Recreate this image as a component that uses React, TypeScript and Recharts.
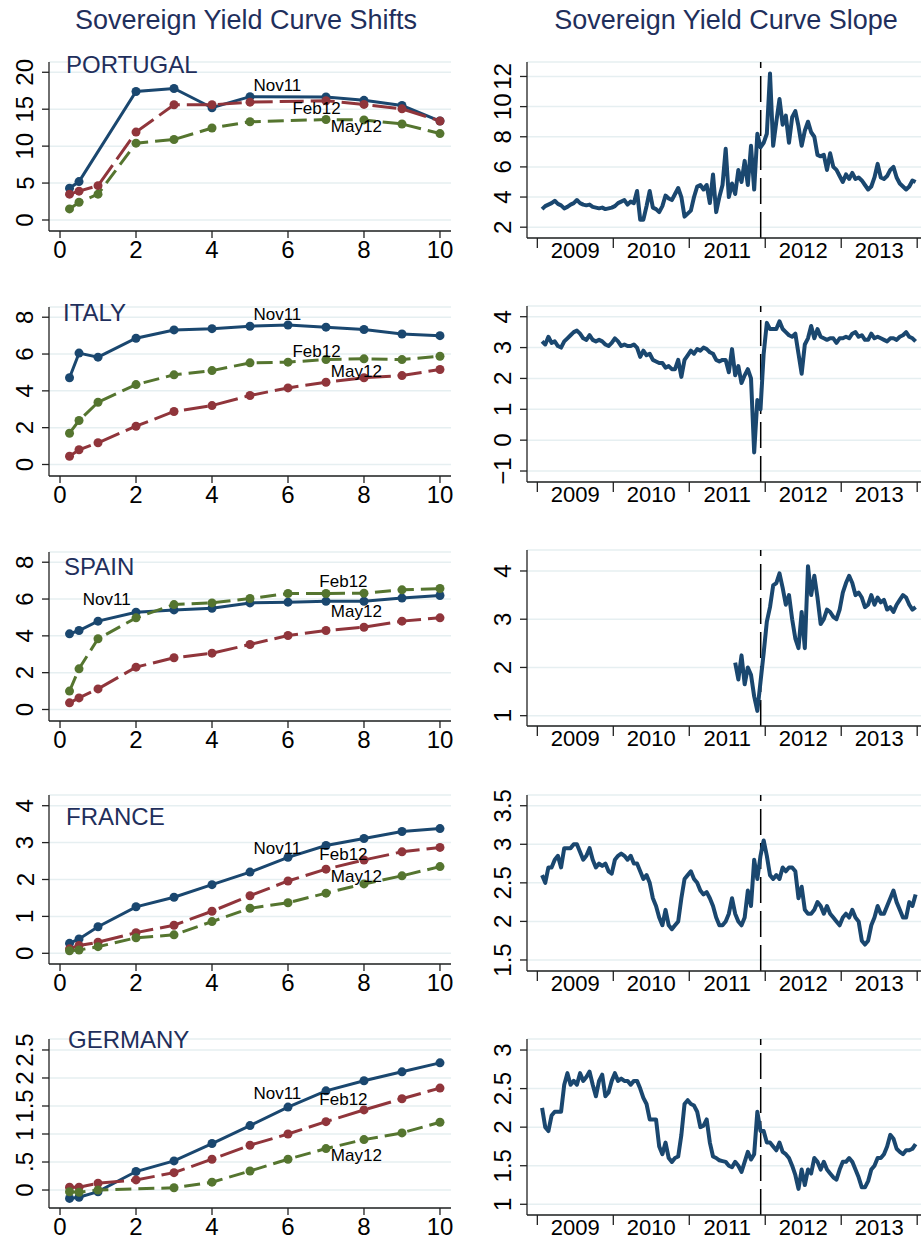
import { CartesianGrid, Line, LineChart, ReferenceDot, ReferenceLine, XAxis, YAxis } from "recharts";

const FONT = '"Liberation Sans", Arial, Helvetica, sans-serif';
const NAVY = "#1a476f";
const MAROON = "#90353b";
const GREEN = "#55752f";
const GRID = "#e6eff1";
const AXIS = "#222";
const TITLE = "#1f2f5c";

// ---- yield curve shifts (left column) ----
const MATURITIES = [0.25, 0.5, 1, 2, 3, 4, 5, 6, 7, 8, 9, 10];
const MAT_TICKS = [0, 2, 4, 6, 8, 10];

const portugalNov11 = [4.3, 5.2, null, 17.4, 17.8, 15.2, 16.7, null, 16.65, 16.2, 15.5, 13.4];
const portugalFeb12 = [3.5, 3.9, 4.65, 11.9, 15.6, 15.6, 15.95, null, 16.15, 15.65, 15.05, 13.4];
const portugalMay12 = [1.5, 2.4, 3.5, 10.4, 10.9, 12.45, 13.3, null, 13.6, 13.55, 13.0, 11.7];

const italyNov11 = [4.71, 6.05, 5.83, 6.86, 7.31, 7.38, 7.51, 7.58, 7.46, 7.33, 7.09, 7.0];
const italyFeb12 = [0.45, 0.8, 1.18, 2.08, 2.88, 3.2, 3.75, 4.16, 4.47, 4.71, 4.83, 5.16];
const italyMay12 = [1.7, 2.39, 3.38, 4.34, 4.87, 5.1, 5.52, 5.56, 5.7, 5.74, 5.7, 5.88];

const spainNov11 = [4.11, 4.29, 4.8, 5.28, 5.41, 5.5, 5.79, 5.83, 5.88, 5.88, 6.05, 6.19];
const spainFeb12 = [0.36, 0.63, 1.12, 2.3, 2.81, 3.06, 3.53, 4.02, 4.29, 4.47, 4.8, 4.98];
const spainMay12 = [1.0, 2.21, 3.84, 4.98, 5.7, 5.79, 6.03, 6.3, 6.3, 6.32, 6.5, 6.57];

const franceNov11 = [0.27, 0.39, 0.72, 1.26, 1.52, 1.86, 2.2, 2.6, 2.92, 3.11, 3.3, 3.38];
const franceFeb12 = [0.12, 0.21, 0.3, 0.56, 0.76, 1.14, 1.56, 1.96, 2.28, 2.53, 2.75, 2.87];
const franceMay12 = [0.07, 0.09, 0.18, 0.42, 0.5, 0.86, 1.22, 1.37, 1.63, 1.88, 2.1, 2.35];

const germanyNov11 = [-0.15, -0.13, -0.03, 0.33, 0.52, 0.83, 1.15, 1.48, 1.77, 1.95, 2.11, 2.27];
const germanyFeb12 = [0.05, 0.05, 0.12, 0.18, 0.31, 0.55, 0.8, 1.0, 1.22, 1.43, 1.63, 1.82];
const germanyMay12 = [-0.03, -0.04, 0.0, null, 0.04, 0.14, 0.34, 0.55, 0.74, 0.9, 1.02, 1.21];

const portugalNotes = [
  { text: "Nov11", m: 5.72, y: 18.3 },
  { text: "Feb12", m: 6.75, y: 15.1 },
  { text: "May12", m: 7.8, y: 12.7 },
];
const italyNotes = [
  { text: "Nov11", m: 5.72, y: 8.15 },
  { text: "Feb12", m: 6.75, y: 6.14 },
  { text: "May12", m: 7.8, y: 5.07 },
];
const spainNotes = [
  { text: "Nov11", m: 1.23, y: 6.01 },
  { text: "Feb12", m: 7.46, y: 7.0 },
  { text: "May12", m: 7.8, y: 5.34 },
];
const franceNotes = [
  { text: "Nov11", m: 5.72, y: 2.85 },
  { text: "Feb12", m: 7.46, y: 2.69 },
  { text: "May12", m: 7.8, y: 2.09 },
];
const germanyNotes = [
  { text: "Nov11", m: 5.72, y: 1.74 },
  { text: "Feb12", m: 7.46, y: 1.62 },
  { text: "May12", m: 7.8, y: 0.625 },
];

// ---- yield curve slope (right column), half-month readings 2009-2013 ----
const YEARS = [2009, 2010, 2011, 2012, 2013];
const YEAR_TICKS = [2009, 2009.5, 2010, 2010.5, 2011, 2011.5, 2012, 2012.5, 2013, 2013.5, 2014];
const EVENT_DATE = 2011.94;

const portugalSlope = [
  null, 3.2, 3.4, 3.5, 3.6, 3.75, 3.55, 3.45, 3.25, 3.35, 3.5, 3.6, 3.8, 3.6, 3.5, 3.45, 3.5, 3.35, 3.3, 3.25, 3.3, 3.2, 3.25, 3.3,
  3.4, 3.6, 3.7, 3.8, 3.5, 3.7, 3.6, 4.4, 2.5, 2.5, 3.4, 4.4, 3.3, 3.2, 3.0, 3.4, 4.1, 3.9, 3.8, 4.2, 4.6, 4.0, 2.7, 2.9,
  3.1, 4.0, 4.7, 4.8, 4.5, 4.8, 3.6, 5.5, 3.0, 4.0, 4.8, 7.2, 4.0, 4.9, 4.2, 5.8, 5.0, 6.4, 4.8, 7.4, 4.5, 8.2, 7.3, 7.6,
  8.2, 12.2, 7.4, 9.0, 10.5, 8.8, 9.4, 7.6, 9.3, 9.7, 8.7, 7.4, 8.4, 9.0, 8.3, 8.0, 6.8, 6.7, 6.8, 5.8, 6.9, 6.0, 5.8, 5.4,
  5.0, 5.5, 5.2, 5.6, 5.2, 5.3, 5.1, 4.8, 4.5, 4.7, 5.3, 6.2, 5.3, 5.2, 5.4, 5.8, 6.0, 5.3, 4.9, 4.7, 4.5, 4.7, 5.1, 5.0,
];
const italySlope = [
  null, 3.2, 3.1, 3.35, 3.15, 3.2, 3.05, 3.0, 3.2, 3.3, 3.4, 3.5, 3.55, 3.45, 3.3, 3.25, 3.4, 3.25, 3.2, 3.25, 3.2, 3.1, 3.05, 3.15,
  3.3, 3.2, 3.05, 3.1, 3.05, 3.05, 3.1, 3.0, 2.7, 2.9, 2.75, 2.8, 2.6, 2.55, 2.5, 2.5, 2.35, 2.4, 2.3, 2.3, 2.6, 2.05, 2.6, 2.75,
  2.9, 2.8, 2.95, 2.9, 3.0, 2.95, 2.85, 2.8, 2.6, 2.55, 2.6, 2.6, 2.2, 2.95, 2.1, 2.4, 1.85, 2.1, 2.3, 2.0, -0.4, 1.3, 1.0, 2.8,
  3.8, 3.6, 3.6, 3.6, 3.85, 3.6, 3.5, 3.4, 3.35, 3.45, 2.8, 2.15, 3.1, 3.3, 3.7, 3.3, 3.6, 3.35, 3.3, 3.25, 3.3, 3.3, 3.15, 3.3,
  3.3, 3.35, 3.3, 3.45, 3.5, 3.35, 3.4, 3.25, 3.25, 3.45, 3.3, 3.35, 3.3, 3.25, 3.2, 3.3, 3.3, 3.25, 3.35, 3.4, 3.5, 3.35, 3.3, 3.2,
];
const spainSlope = [
  null, null, null, null, null, null, null, null, null, null, null, null, null, null, null, null, null, null, null, null, null, null, null, null,
  null, null, null, null, null, null, null, null, null, null, null, null, null, null, null, null, null, null, null, null, null, null, null, null,
  null, null, null, null, null, null, null, null, null, null, null, null, null, null, 2.1, 1.75, 2.25, 1.65, 2.0, 1.85, 1.4, 1.1, 1.7, 2.3,
  2.95, 3.25, 3.7, 3.75, 3.95, 3.65, 3.3, 3.5, 3.0, 2.6, 2.4, 3.15, 2.4, 4.1, 3.5, 3.9, 3.45, 2.9, 3.0, 3.2, 3.15, 3.05, 3.0, 3.2,
  3.55, 3.75, 3.9, 3.75, 3.5, 3.55, 3.45, 3.25, 3.3, 3.5, 3.3, 3.45, 3.35, 3.4, 3.2, 3.25, 3.15, 3.3, 3.4, 3.5, 3.45, 3.3, 3.2, 3.25,
];
const franceSlope = [
  null, 2.6, 2.5, 2.7, 2.7, 2.8, 2.85, 2.7, 2.95, 2.95, 2.95, 3.0, 3.0, 2.9, 2.8, 2.85, 2.95, 2.8, 2.7, 2.75, 2.72, 2.75, 2.65, 2.62,
  2.8, 2.85, 2.88, 2.85, 2.8, 2.85, 2.75, 2.75, 2.65, 2.55, 2.6, 2.5, 2.3, 2.2, 2.05, 1.95, 2.15, 1.95, 1.9, 1.95, 2.0, 2.3, 2.55, 2.6,
  2.65, 2.55, 2.5, 2.4, 2.35, 2.38, 2.3, 2.2, 2.05, 1.95, 1.95, 2.0, 2.1, 2.3, 2.1, 2.0, 1.95, 2.05, 2.4, 2.2, 2.8, 2.55, 2.85, 3.05,
  2.85, 2.6, 2.55, 2.6, 2.55, 2.7, 2.65, 2.7, 2.7, 2.65, 2.3, 2.45, 2.15, 2.1, 2.1, 2.15, 2.25, 2.2, 2.1, 2.2, 2.1, 2.05, 2.0, 1.95,
  2.05, 2.1, 2.05, 2.15, 2.05, 2.0, 1.75, 1.7, 1.75, 1.95, 2.05, 2.2, 2.1, 2.1, 2.2, 2.3, 2.4, 2.25, 2.15, 2.05, 2.05, 2.25, 2.2, 2.35,
];
const germanySlope = [
  null, 2.25, 2.0, 1.95, 2.15, 2.2, 2.2, 2.2, 2.55, 2.7, 2.55, 2.6, 2.55, 2.7, 2.6, 2.65, 2.72, 2.55, 2.4, 2.6, 2.68, 2.4, 2.45, 2.6,
  2.7, 2.6, 2.63, 2.6, 2.6, 2.55, 2.6, 2.6, 2.5, 2.38, 2.3, 2.1, 2.1, 2.1, 1.75, 1.65, 1.8, 1.6, 1.55, 1.6, 1.62, 1.9, 2.3, 2.35,
  2.3, 2.28, 2.2, 2.0, 2.02, 2.1, 1.8, 1.62, 1.6, 1.57, 1.56, 1.55, 1.5, 1.48, 1.55, 1.5, 1.42, 1.55, 1.68, 1.58, 1.65, 2.2, 1.95, 1.95,
  1.8, 1.8, 1.75, 1.7, 1.8, 1.68, 1.65, 1.6, 1.5, 1.38, 1.2, 1.45, 1.25, 1.45, 1.4, 1.6, 1.55, 1.45, 1.55, 1.45, 1.4, 1.35, 1.32, 1.45,
  1.55, 1.55, 1.6, 1.55, 1.45, 1.35, 1.22, 1.22, 1.3, 1.45, 1.5, 1.6, 1.6, 1.65, 1.75, 1.9, 1.85, 1.72, 1.68, 1.65, 1.7, 1.7, 1.72, 1.78,
];

function curveRows(nov: (number | null)[], feb: (number | null)[], may: (number | null)[]) {
  return MATURITIES.map((m, i) => ({ m, nov11: nov[i], feb12: feb[i], may12: may[i] }));
}

// each reading sits in the middle of its half-month slot
const slopeRows = YEARS.flatMap((yr, yi) =>
  Array.from({ length: 24 }, (_, k) => {
    const i = yi * 24 + k;
    return {
      t: yr + (k + 0.5) / 24,
      portugal: portugalSlope[i],
      italy: italySlope[i],
      spain: spainSlope[i],
      france: franceSlope[i],
      germany: germanySlope[i],
    };
  })
);

const stataFmt = (v: number) => (v > 0 && v < 1 ? String(v).replace(/^0/, "") : v < 0 ? "\u2212" + Math.abs(v) : String(v));

function RotYTick(props: any) {
  const { x, y, payload } = props;
  const cx = x - 17;
  return (
    <text
      x={cx}
      y={y}
      transform={`rotate(-90 ${cx} ${y})`}
      textAnchor="middle"
      dominantBaseline="central"
      fontSize={24}
      fontFamily={FONT}
      fill="#000"
    >
      {stataFmt(payload.value)}
    </text>
  );
}

function NumXTick(props: any) {
  const { x, y, payload } = props;
  return (
    <text x={x} y={y + 11} textAnchor="middle" dominantBaseline="central" fontSize={24} fontFamily={FONT} fill="#000">
      {payload.value}
    </text>
  );
}

function YearTick(props: any) {
  const { x, y, payload } = props;
  if (Number.isInteger(payload.value)) {
    return <line x1={x} x2={x} y1={y} y2={y + 10} stroke={AXIS} strokeWidth={1.3} />;
  }
  return (
    <text x={x} y={y + 12} textAnchor="middle" dominantBaseline="central" fontSize={22} fontFamily={FONT} fill="#000">
      {Math.floor(payload.value)}
    </text>
  );
}

type Note = { text: string; m: number; y: number };

function CurvePanel(p: {
  name: string;
  top: number;
  rows: any[];
  yDomain: [number, number];
  yTicks: number[];
  notes: Note[];
  labelLeft: number;
  labelY: number;
}) {
  const dot = (c: string) => ({ r: 4.5, fill: c, stroke: c, strokeWidth: 0 });
  return (
    <>
      <div style={{ position: "absolute", left: 0, top: p.top - 10 }}>
        <LineChart width={456} height={219} data={p.rows} margin={{ top: 10, right: 5, left: 0, bottom: 0 }}>
          <CartesianGrid vertical={false} stroke={GRID} strokeWidth={1.5} />
          <XAxis
            type="number"
            dataKey="m"
            domain={[-0.29, 10.29]}
            ticks={MAT_TICKS}
            interval={0}
            allowDataOverflow
            height={40}
            tickSize={7}
            tickMargin={0}
            axisLine={{ stroke: AXIS, strokeWidth: 1.3 }}
            tickLine={{ stroke: AXIS, strokeWidth: 1.3 }}
            tick={(t: any) => <NumXTick {...t} />}
          />
          <YAxis
            type="number"
            domain={p.yDomain}
            ticks={p.yTicks}
            interval={0}
            allowDataOverflow
            width={49}
            tickSize={7}
            tickMargin={0}
            axisLine={{ stroke: AXIS, strokeWidth: 1.3 }}
            tickLine={{ stroke: AXIS, strokeWidth: 1.3 }}
            tick={(t: any) => <RotYTick {...t} />}
          />
          <Line dataKey="nov11" stroke={NAVY} strokeWidth={3} dot={dot(NAVY)} activeDot={false} connectNulls isAnimationActive={false} />
          <Line dataKey="feb12" stroke={MAROON} strokeWidth={3} strokeDasharray="24 7" dot={dot(MAROON)} activeDot={false} connectNulls isAnimationActive={false} />
          <Line dataKey="may12" stroke={GREEN} strokeWidth={3} strokeDasharray="16 7" dot={dot(GREEN)} activeDot={false} connectNulls isAnimationActive={false} />
          {p.notes.map((n) => (
            <ReferenceDot
              key={n.text}
              x={n.m}
              y={n.y}
              r={1}
              fill="none"
              stroke="none"
              label={{ value: n.text, position: "center", fontSize: 17, fill: "#000", fontFamily: FONT }}
            />
          ))}
        </LineChart>
      </div>
      <div
        style={{
          position: "absolute",
          left: p.labelLeft,
          top: p.labelY - 14,
          fontSize: 24,
          lineHeight: "28px",
          fontFamily: FONT,
          color: TITLE,
          whiteSpace: "nowrap",
        }}
      >
        {p.name}
      </div>
    </>
  );
}

function SlopePanel(p: { top: number; dataKey: string; yDomain: [number, number]; yTicks: number[] }) {
  return (
    <div style={{ position: "absolute", left: 460, top: p.top - 10 }}>
      <LineChart width={461} height={216} data={slopeRows} margin={{ top: 10, right: 0, left: 0, bottom: 0 }}>
        <CartesianGrid vertical={false} stroke={GRID} strokeWidth={1.5} />
        <XAxis
          type="number"
          dataKey="t"
          domain={[2008.864, 2014.05]}
          ticks={YEAR_TICKS}
          interval={0}
          allowDataOverflow
          height={30}
          tickSize={0}
          tickMargin={0}
          axisLine={{ stroke: AXIS, strokeWidth: 1.3 }}
          tickLine={false}
          tick={(t: any) => <YearTick {...t} />}
        />
        <YAxis
          type="number"
          domain={p.yDomain}
          ticks={p.yTicks}
          interval={0}
          allowDataOverflow
          width={67}
          tickSize={7}
          tickMargin={0}
          axisLine={{ stroke: AXIS, strokeWidth: 1.3 }}
          tickLine={{ stroke: AXIS, strokeWidth: 1.3 }}
          tick={(t: any) => <RotYTick {...t} />}
        />
        <ReferenceLine x={EVENT_DATE} stroke="#000" strokeWidth={1.5} strokeDasharray="26 8" />
        <Line
          dataKey={p.dataKey}
          stroke={NAVY}
          strokeWidth={4}
          strokeLinejoin="round"
          dot={false}
          activeDot={false}
          isAnimationActive={false}
        />
      </LineChart>
    </div>
  );
}

export default function App() {
  const titleStyle = {
    position: "absolute" as const,
    top: 4,
    width: 500,
    textAlign: "center" as const,
    fontSize: 27,
    lineHeight: "32px",
    fontFamily: FONT,
    color: TITLE,
  };
  return (
    <div style={{ position: "absolute", left: 0, top: 0, width: 921, height: 1240, background: "#fff", overflow: "hidden" }}>
      <div style={{ ...titleStyle, left: 246 - 250 }}>Sovereign Yield Curve Shifts</div>
      <div style={{ ...titleStyle, left: 726 - 250 }}>Sovereign Yield Curve Slope</div>

      <CurvePanel name="PORTUGAL" top={62} rows={curveRows(portugalNov11, portugalFeb12, portugalMay12)} yDomain={[-1.49, 21.39]} yTicks={[0, 5, 10, 15, 20]} notes={portugalNotes} labelLeft={66} labelY={65} />
      <CurvePanel name="ITALY" top={306.5} rows={curveRows(italyNov11, italyFeb12, italyMay12)} yDomain={[-0.625, 8.555]} yTicks={[0, 2, 4, 6, 8]} notes={italyNotes} labelLeft={63} labelY={313} />
      <CurvePanel name="SPAIN" top={551.5} rows={curveRows(spainNov11, spainFeb12, spainMay12)} yDomain={[-0.625, 8.555]} yTicks={[0, 2, 4, 6, 8]} notes={spainNotes} labelLeft={64} labelY={567} />
      <CurvePanel name="FRANCE" top={795} rows={curveRows(franceNov11, franceFeb12, franceMay12)} yDomain={[-0.29, 4.29]} yTicks={[0, 1, 2, 3, 4]} notes={franceNotes} labelLeft={66} labelY={817} />
      <CurvePanel name="GERMANY" top={1039} rows={curveRows(germanyNov11, germanyFeb12, germanyMay12)} yDomain={[-0.321, 2.696]} yTicks={[0, 0.5, 1, 1.5, 2, 2.5]} notes={germanyNotes} labelLeft={68} labelY={1040} />

      <SlopePanel top={61.5} dataKey="portugal" yDomain={[1.283, 12.96]} yTicks={[2, 4, 6, 8, 10, 12]} />
      <SlopePanel top={306} dataKey="italy" yDomain={[-1.356, 4.347]} yTicks={[-1, 0, 1, 2, 3, 4]} />
      <SlopePanel top={550} dataKey="spain" yDomain={[0.786, 4.435]} yTicks={[1, 2, 3, 4]} />
      <SlopePanel top={795} dataKey="france" yDomain={[1.357, 3.639]} yTicks={[1.5, 2, 2.5, 3, 3.5]} />
      <SlopePanel top={1039} dataKey="germany" yDomain={[0.861, 3.143]} yTicks={[1, 1.5, 2, 2.5, 3]} />
    </div>
  );
}
